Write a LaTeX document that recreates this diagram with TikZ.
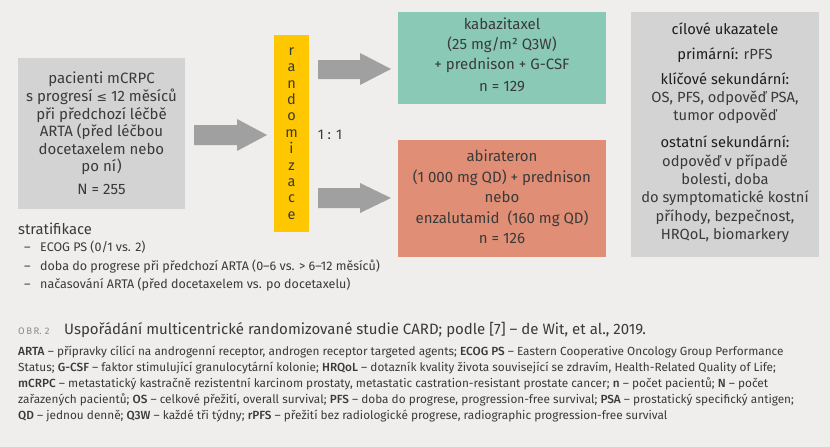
\documentclass[tikz,border=0pt]{standalone}
\usepackage{fontspec}
\setmainfont{Fira Sans}[BoldFont={Fira Sans Medium}]
\newfontfamily\symf{DejaVu Sans}
\definecolor{bg}{HTML}{EFEEEC}
\definecolor{boxgrey}{HTML}{D3D3D3}
\definecolor{boxgreen}{HTML}{8BC9B7}
\definecolor{boxsalmon}{HTML}{E08E75}
\definecolor{boxyellow}{HTML}{FFC700}
\definecolor{arrgrey}{HTML}{A0A0A0}
\definecolor{txt}{HTML}{3A3A3A}
\definecolor{txtdark}{HTML}{1E1E1E}
\definecolor{capgrey}{HTML}{8A8A8A}
\newcommand{\ab}[1]{\textbf{#1}}
\newcommand{\hd}[1]{\textcolor{txtdark}{#1}}
\begin{document}
\begin{tikzpicture}[x=1pt,y=-1pt,
  every node/.style={inner sep=0pt, text=txt},
  panel/.style={minimum width=#1, align=center, font=\fontsize{15}{17.6}\selectfont},
  blockarrow/.style={fill=arrgrey},
  capline/.style={anchor=base west, font=\fontsize{11.8}{14}\selectfont},
  stratitem/.style={anchor=base west, font=\fontsize{12.5}{14}\selectfont}]
\fill[bg] (0,0) rectangle (830,447);
\useasboundingbox (0,0) rectangle (830,447);
% boxes
\node[fill=boxgrey, minimum width=167pt, minimum height=151pt] (patbox) at (101.5,133.5) {};
\node[fill=boxyellow, minimum width=35pt, minimum height=197pt] (rand) at (291.5,133.5) {};
\node[fill=boxgreen, minimum width=208pt, minimum height=92pt] (cab) at (502,58) {};
\node[fill=boxsalmon, minimum width=208pt, minimum height=117pt] (abi) at (502,198.5) {};
\node[fill=boxgrey, minimum width=188pt, minimum height=245pt] (end) at (725,134.5) {};
% texts
\node[panel=160pt] (pattxt) at (patbox.center) {pacienti mCRPC\\s progresí {\symf\fontsize{12.5}{13}\selectfont ≤} 12 měsíců\\při předchozí léčbě\\ARTA (před léčbou\\docetaxelem nebo\\po ní)\\[5pt]N = 255};
\node[align=center, font=\fontsize{14.5}{16.4}\selectfont] (randtxt) at (rand.center) {r\\a\\n\\d\\o\\m\\i\\z\\a\\c\\e};
\node[font=\fontsize{14}{16}\selectfont] (ratio) at (330,135) {1 : 1};
\node[panel=200pt, font=\fontsize{15}{20}\selectfont] (cabtxt) at ([yshift=3pt]cab.center) {kabazitaxel\\(25 mg/m² Q3W)\\+ prednison + G-CSF\\[2pt]n = 129};
\node[panel=200pt, font=\fontsize{15}{20.5}\selectfont] (abitxt) at ([yshift=1.5pt]abi.center) {abirateron\\(1 000 mg QD) + prednison\\nebo\\enzalutamid\ \ (160 mg QD)\\n = 126};
\node[panel=186pt, font=\fontsize{14.7}{18.3}\selectfont] (endtxt) at ([yshift=2pt]end.center) {\hd{cílové ukazatele}\\[6.7pt]\hd{primární:} rPFS\\[6.7pt]\hd{klíčové sekundární:}\\OS, PFS, odpověď PSA,\\tumor odpověď\\[8.7pt]\hd{ostatní sekundární:}\\odpověď v případě\\bolesti, doba\\do symptomatické kostní\\příhody, bezpečnost,\\HRQoL, biomarkery};
% block arrows
\fill[blockarrow] (194,125) -- (237,125) -- (237,119) -- (267,135) -- (237,151) -- (237,145) -- (194,145) -- cycle;
\fill[blockarrow] (318,60) -- (360,60) -- (360,53) -- (391,69) -- (360,85) -- (360,79) -- (318,79) -- cycle;
\fill[blockarrow] (318,188) -- (360,188) -- (360,183) -- (391,198) -- (360,213) -- (360,208) -- (318,208) -- cycle;
% stratification
\node[anchor=base west, font=\fontsize{14.8}{16}\selectfont] (strat) at (18,234) {stratifikace};
\node[stratitem] (s1d) at (24,251.5) {–};
\node[stratitem] (s1) at (40,251.5) {ECOG PS (0/1 vs. 2)};
\node[stratitem] (s2d) at (24,270) {–};
\node[stratitem] (s2) at (40,270) {doba do progrese při předchozí ARTA (0–6 vs. > 6–12 měsíců)};
\node[stratitem] (s3d) at (24,288.5) {–};
\node[stratitem] (s3) at (40,288.5) {načasování ARTA (před docetaxelem vs. po docetaxelu)};
% caption
\node[anchor=base west, font=\fontsize{9.5}{10}\selectfont, text=capgrey] (obr) at (18,334) {O\,B\,R.\,\,2};
\node[anchor=base west, font=\fontsize{15}{16}\selectfont] (title) at (64,334) {Uspořádání multicentrické randomizované studie CARD; podle [7] – de Wit, et al., 2019.};
\node[capline] (c1) at (18,355) {\ab{ARTA} – přípravky cílící na androgenní receptor, androgen receptor targeted agents; \ab{ECOG PS} – Eastern Cooperative Oncology Group Performance};
\node[capline] (c2) at (18,371) {Status; \ab{G-CSF} – faktor stimulující granulocytární kolonie; \ab{HRQoL} – dotazník kvality života související se zdravím, Health-Related Quality of Life;};
\node[capline] (c3) at (18,387) {\ab{mCRPC} – metastatický kastračně rezistentní karcinom prostaty, metastatic castration-resistant prostate cancer; \ab{n} – počet pacientů; \ab{N} – počet};
\node[capline] (c4) at (18,403) {zařazených pacientů; \ab{OS} – celkové přežití, overall survival; \ab{PFS} – doba do progrese, progression-free survival; \ab{PSA} – prostatický specifický antigen;};
\node[capline] (c5) at (18,419) {\ab{QD} – jednou denně; \ab{Q3W} – každé tři týdny; \ab{rPFS} – přežití bez radiologické progrese, radiographic progression-free survival};
\end{tikzpicture}
\end{document}
